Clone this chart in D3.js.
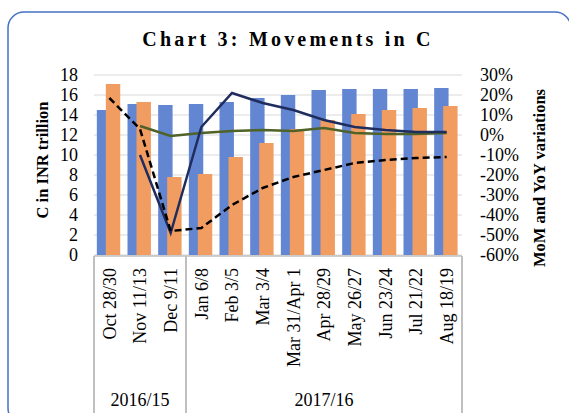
<!DOCTYPE html>
<html>
<head>
<meta charset="utf-8">
<script src="https://cdn.jsdelivr.net/npm/d3@7"></script>
<style>
  body { margin: 0; background: #fff; }
  svg { display: block; font-family: "Liberation Serif", "Times New Roman", serif; }
</style>
</head>
<body>
<div id="chart"></div>
<script>
WIDTH = 569;
HEIGHT = 413;

// data
var categories = ["Oct 28/30", "Nov 11/13", "Dec 9/11", "Jan 6/8", "Feb 3/5", "Mar 3/4",
  "Mar 31/Apr 1", "Apr 28/29", "May 26/27", "Jun 23/24", "Jul 21/22", "Aug 18/19"];
var groupLabels = ["2016/15", "2017/16"];
var groupSizes = [3, 9];
var cCurrent = [14.5, 15.1, 15.0, 15.1, 15.3, 15.7, 16.0, 16.5, 16.6, 16.6, 16.6, 16.7];
var cPrevious = [17.1, 15.3, 7.8, 8.1, 9.8, 11.2, 12.6, 13.5, 14.1, 14.5, 14.7, 14.9];
var yoyDashed = [18.5, 3, -48, -46.5, -35, -26.5, -21, -17.5, -14, -12.5, -11.5, -11];
var momNavy = [null, -10, -49, 4, 21, 16, 12.5, 7.5, 4, 2.5, 1.5, 1.5];
var momGreen = [null, 4.5, -0.5, 1, 2, 2.5, 2, 3.5, 1, 0.5, 0.5, 1];
var leftTicks = d3.range(0, 19, 2);
var rightTicks = d3.range(-60, 31, 10);

var margin = { top: 75, left: 94, right: 462, bottom: 255 };

var svg = d3.select("#chart").append("svg")
  .attr("width", WIDTH)
  .attr("height", HEIGHT);

// frame
svg.append("rect")
  .attr("x", 8).attr("y", 12)
  .attr("width", 563).attr("height", 412)
  .attr("rx", 16)
  .attr("fill", "none")
  .attr("stroke", "#4472C4")
  .attr("stroke-width", 1.5);

svg.append("text")
  .attr("x", 288).attr("y", 46)
  .attr("text-anchor", "middle")
  .attr("font-size", 20)
  .attr("font-weight", "bold")
  .attr("letter-spacing", 3.2)
  .text("Chart 3: Movements in C");

var x = d3.scaleBand().domain(categories).range([margin.left, margin.right]);
var yL = d3.scaleLinear().domain([0, 18]).range([margin.bottom, margin.top]);
var yR = d3.scaleLinear().domain([-60, 30]).range([margin.bottom, margin.top]);

// gridlines
svg.append("g").selectAll("line").data(leftTicks).join("line")
  .attr("x1", margin.left).attr("x2", margin.right)
  .attr("y1", d => yL(d)).attr("y2", d => yL(d))
  .attr("stroke", "#D9D9D9").attr("stroke-width", 1.2);

// bars
var bw = x.bandwidth() * 0.47;
var bars = svg.append("g");
bars.selectAll(".cur").data(cCurrent).join("rect")
  .attr("x", (d, i) => x(categories[i]) + x.bandwidth() / 2 - 12.5)
  .attr("y", d => yL(d))
  .attr("width", bw)
  .attr("height", d => yL(0) - yL(d))
  .attr("fill", "#6386D2");
bars.selectAll(".prev").data(cPrevious).join("rect")
  .attr("x", (d, i) => x(categories[i]) + x.bandwidth() / 2 - 3.5)
  .attr("y", d => yL(d))
  .attr("width", bw)
  .attr("height", d => yL(0) - yL(d))
  .attr("fill", "#F19C61");

// lines
var line = d3.line()
  .defined(d => d.v != null)
  .x(d => x(d.c) + x.bandwidth() / 2)
  .y(d => yR(d.v));

function series(vals) {
  return vals.map((v, i) => ({ c: categories[i], v: v }));
}

svg.append("path").datum(series(momGreen))
  .attr("d", line).attr("fill", "none")
  .attr("stroke", "#4F6228").attr("stroke-width", 2.5);
svg.append("path").datum(series(momNavy))
  .attr("d", line).attr("fill", "none")
  .attr("stroke", "#1F2D5E").attr("stroke-width", 2.5);
svg.append("path").datum(series(yoyDashed))
  .attr("d", line).attr("fill", "none")
  .attr("stroke", "#000").attr("stroke-width", 2.5)
  .attr("stroke-dasharray", "7,4");

// left axis labels
svg.append("g").selectAll("text").data(leftTicks).join("text")
  .attr("x", 78).attr("y", d => yL(d))
  .attr("dy", "0.35em")
  .attr("text-anchor", "end")
  .attr("font-size", 18)
  .text(d => d);

// right axis labels
svg.append("g").selectAll("text").data(rightTicks).join("text")
  .attr("x", 480).attr("y", d => yR(d))
  .attr("dy", "0.35em")
  .attr("font-size", 18)
  .text(d => d + "%");

svg.append("text")
  .attr("transform", "translate(48,160) rotate(-90)")
  .attr("text-anchor", "middle")
  .attr("font-size", 16.5).attr("font-weight", "bold")
  .text("C in INR trillion");

svg.append("text")
  .attr("transform", "translate(545,178) rotate(-90)")
  .attr("text-anchor", "middle")
  .attr("font-size", 16.5).attr("font-weight", "bold")
  .text("MoM and YoY variations");

// category axis
var axisG = svg.append("g");
axisG.append("line")
  .attr("x1", margin.left).attr("x2", margin.right)
  .attr("y1", margin.bottom + 1).attr("y2", margin.bottom + 1)
  .attr("stroke", "#BFBFBF").attr("stroke-width", 1.5);

axisG.selectAll(".cat").data(categories).join("text")
  .attr("transform", d => "translate(" + (x(d) + x.bandwidth() / 2) + ",268) rotate(-90)")
  .attr("dy", "0.35em")
  .attr("text-anchor", "end")
  .attr("font-size", 18)
  .text(d => d);

var bounds = [0];
groupSizes.forEach((n, i) => bounds.push(bounds[i] + n));
var edgeX = bounds.map(b => margin.left + b * x.step());

axisG.selectAll(".div").data(edgeX).join("line")
  .attr("x1", d => d).attr("x2", d => d)
  .attr("y1", margin.bottom + 1).attr("y2", HEIGHT)
  .attr("stroke", "#BFBFBF").attr("stroke-width", 2);

axisG.selectAll(".grp").data(groupLabels).join("text")
  .attr("x", (d, i) => (edgeX[i] + edgeX[i + 1]) / 2)
  .attr("y", 406)
  .attr("text-anchor", "middle")
  .attr("font-size", 18)
  .text(d => d);
</script>
</body>
</html>
